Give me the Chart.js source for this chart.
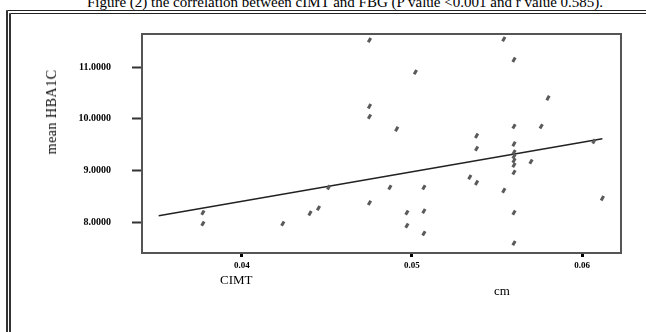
<!DOCTYPE html>
<html>
<head>
<meta charset="utf-8">
<script src="https://cdn.jsdelivr.net/npm/chart.js@4/dist/chart.umd.min.js"></script>
<style>
  html, body { margin: 0; padding: 0; background: #fff; overflow: hidden; }
  #wrap { position: relative; width: 646px; height: 332px; overflow: hidden; }
  #title {
    position: absolute; left: 0; width: 690px; top: -5px; text-align: center;
    font: 15px "Liberation Serif", serif; line-height: 15px; color: #000; white-space: nowrap;
  }
  #frame {
    position: absolute; left: 6px; top: 10px; width: 700px; height: 400px;
    border-top: 4px double #222; border-left: 5px double #333; box-sizing: border-box;
  }
  .lbl { position: absolute; font: 13px "Liberation Serif", serif; color: #000; white-space: nowrap; }
  #ytitle { left: 52px; top: 112px; font-size: 14px; letter-spacing: 0.5px; transform: translate(-50%, -50%) rotate(-90deg); }
  #cimt { left: 220px; top: 272px; }
  #cm { left: 494px; top: 283px; }
  canvas { position: absolute; left: 0; top: 0; }
</style>
</head>
<body>
<div id="wrap">
  <div id="title">Figure (2) the correlation between cIMT and FBG (P value &lt;0.001 and r value 0.585).</div>
  <div id="frame"></div>
  <canvas id="chart" width="646" height="332"></canvas>
  <div class="lbl" id="ytitle">mean HBA1C</div>
  <div class="lbl" id="cimt">CIMT</div>
  <div class="lbl" id="cm">cm</div>
</div>
<script>
// Данные
const cimtValues = [
  0.0377, 0.0377, 0.0424, 0.0440, 0.0445, 0.0451, 0.0475, 0.0475, 0.0475, 0.0475,
  0.0487, 0.0491, 0.0497, 0.0497, 0.0502, 0.0507, 0.0507, 0.0507, 0.0534, 0.0538,
  0.0538, 0.0538, 0.0554, 0.0554, 0.0560, 0.0560, 0.0560, 0.0560, 0.0560, 0.0560,
  0.0560, 0.0560, 0.0560, 0.0560, 0.0570, 0.0576, 0.0580, 0.0607, 0.0612
];
const hba1cValues = [
  8.18, 7.97, 7.97, 8.17, 8.27, 8.67, 11.52, 10.24, 10.04, 8.37,
  8.67, 9.80, 8.18, 7.93, 10.90, 8.67, 8.21, 7.78, 8.87, 9.67,
  9.42, 8.76, 11.54, 8.61, 11.14, 9.85, 9.51, 9.35, 9.27, 9.19,
  9.10, 8.96, 8.18, 7.59, 9.17, 9.85, 10.40, 9.56, 8.46
];
// Линия регрессии: концы
const fitX = [0.0351, 0.0612];
const fitY = [8.12, 9.61];

const xTicks = [0.04, 0.05, 0.06];
const yTicks = [8, 9, 10, 11];

// Рамка вокруг области построения
const boxPlugin = {
  id: "box",
  afterDraw(chart) {
    const a = chart.chartArea;
    const c = chart.ctx;
    c.save();
    c.strokeStyle = "#555";
    c.lineWidth = 2;
    c.strokeRect(a.left, a.top, a.right - a.left, a.bottom - a.top);
    c.restore();
  },
};

const ctx = document.getElementById("chart").getContext("2d");
new Chart(ctx, {
  type: "scatter",
  data: {
    datasets: [
      {
        data: cimtValues.map((x, i) => ({ x, y: hba1cValues[i] })),
        pointStyle: "line",
        rotation: -60,
        radius: 2.5,
        borderWidth: 3,
        borderColor: "#5a5a5a",
        backgroundColor: "#5a5a5a",
      },
      {
        data: fitX.map((x, i) => ({ x, y: fitY[i] })),
        showLine: true,
        pointRadius: 0,
        borderColor: "#222",
        borderWidth: 1.5,
      },
    ],
  },
  options: {
    responsive: false,
    animation: false,
    layout: { padding: { top: 34, right: 25, left: 0, bottom: 0 } },
    plugins: { legend: { display: false }, tooltip: { enabled: false } },
    scales: {
      x: {
        type: "linear",
        min: 0.034118,
        max: 0.062294,
        afterBuildTicks: (s) => { s.ticks = xTicks.map((v) => ({ value: v })); },
        afterFit: (s) => { s.height = 79; },
        border: { display: false },
        grid: { drawOnChartArea: false, drawTicks: true, tickLength: 4, tickWidth: 3, tickColor: "#000" },
        ticks: {
          padding: 3,
          color: "#000",
          font: { family: "Liberation Serif", size: 9, weight: "bold" },
          callback: (v) => v.toFixed(2),
        },
      },
      y: {
        type: "linear",
        min: 7.40,
        max: 11.639,
        afterBuildTicks: (s) => { s.ticks = yTicks.map((v) => ({ value: v })); },
        afterFit: (s) => { s.width = 142; },
        border: { display: false },
        grid: { drawOnChartArea: false, drawTicks: true, tickLength: 10, tickWidth: 2, tickColor: "#333" },
        ticks: {
          padding: 21,
          color: "#000",
          font: { family: "Liberation Serif", size: 10, weight: "bold" },
          callback: (v) => v.toFixed(4),
        },
      },
    },
  },
  plugins: [boxPlugin],
});
</script>
</body>
</html>
